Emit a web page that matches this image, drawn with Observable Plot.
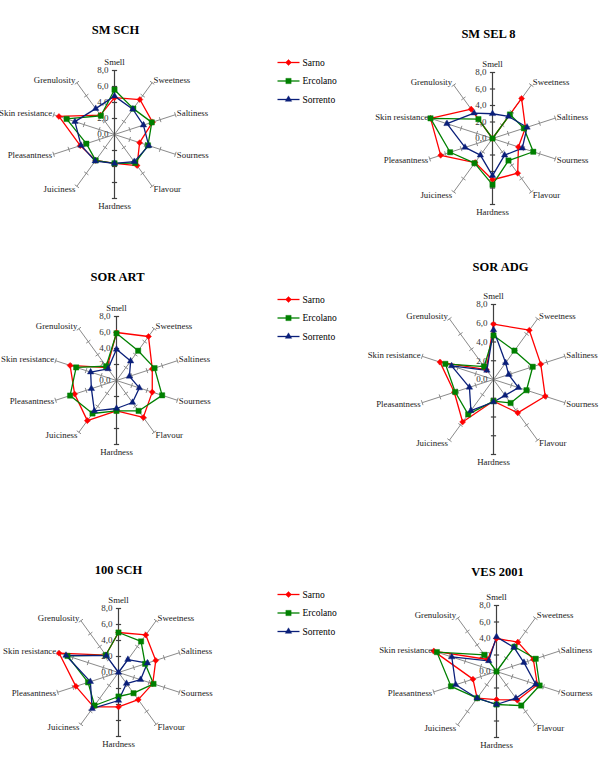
<!DOCTYPE html>
<html><head><meta charset="utf-8">
<script src="https://cdn.jsdelivr.net/npm/d3@7"></script>
<script src="https://cdn.jsdelivr.net/npm/@observablehq/plot@0.6"></script>
<style>body{margin:0;background:#fff}#chart{width:600px;height:760px}</style>
</head><body><div id="chart"></div>
<script>
// ---------- data ----------
const attributes = ["Smell","Sweetness","Saltiness","Sourness","Flavour","Hardness","Juiciness","Pleasantness","Skin resistance","Grenulosity"];
const seriesNames = ["Sarno","Ercolano","Sorrento"];
const chartTitles = ["SM SCH","SM SEL 8","SOR ART","SOR ADG","100 SCH","VES 2001"];
const scaleTicks = [0,2,4,6,8];
const scaleTickLabels = ["0,0","2,0","4,0","6,0","8,0"];

const smSchSarno     = [4.6,5.4,5.0,3.3,4.8,3.6,4.0,4.5,7.3,3.0];
const smSchErcolano  = [5.6,4.0,4.9,4.4,4.4,3.6,4.0,3.7,6.3,2.9];
const smSchSorrento  = [4.8,3.9,3.8,4.5,4.2,3.6,4.1,4.4,5.2,4.0];

const smSel8Sarno    = [0.0,6.0,4.2,3.3,5.2,5.0,3.6,6.6,7.9,4.4];
const smSel8Ercolano = [0.0,3.6,4.0,5.2,3.3,5.6,3.7,5.4,7.9,2.9];
const smSel8Sorrento = [3.0,3.3,4.4,3.8,2.5,4.5,2.5,3.5,5.8,3.8];

const sorArtSarno    = [6.0,6.8,4.7,4.7,5.7,3.8,6.2,5.5,6.1,2.0];
const sorArtErcolano = [5.9,4.6,5.0,6.0,4.7,3.8,5.1,6.1,5.3,2.2];
const sorArtSorrento = [3.9,3.0,1.7,3.0,3.4,3.5,4.7,3.3,3.4,1.8];

const sorAdgSarno    = [5.9,6.5,5.3,5.8,4.4,2.3,5.6,4.4,6.0,1.3];
const sorAdgErcolano = [4.7,3.8,4.4,3.7,3.1,2.3,4.6,4.3,5.4,1.7];
const sorAdgSorrento = [5.3,2.2,1.7,2.8,2.1,2.4,4.1,2.7,4.7,1.2];

const sch100Sarno    = [5.0,5.8,4.9,4.5,4.2,4.3,5.3,5.6,7.8,2.7];
const sch100Ercolano = [5.0,4.8,3.5,4.6,3.2,3.0,5.1,4.0,6.7,2.7];
const sch100Sorrento = [0.0,2.0,3.8,2.9,1.7,3.5,5.6,3.7,6.9,2.6];

const ves2001Sarno    = [4.0,4.4,4.7,5.2,4.3,3.4,4.0,3.0,8.0,1.8];
const ves2001Ercolano = [0.0,3.7,5.0,5.5,5.1,4.0,4.0,5.8,7.6,2.5];
const ves2001Sorrento = [4.2,3.6,3.5,5.0,4.0,4.0,4.0,5.2,5.7,1.6];

const chartValues = [
  [smSchSarno, smSchErcolano, smSchSorrento],
  [smSel8Sarno, smSel8Ercolano, smSel8Sorrento],
  [sorArtSarno, sorArtErcolano, sorArtSorrento],
  [sorAdgSarno, sorAdgErcolano, sorAdgSorrento],
  [sch100Sarno, sch100Ercolano, sch100Sorrento],
  [ves2001Sarno, ves2001Ercolano, ves2001Sorrento]
];

// ---------- layout & style ----------
const layout = [
  {cx:114, cy:134, R:64, tx:115, ty:29},
  {cx:492, cy:138, R:66, tx:488, ty:33},
  {cx:116, cy:380, R:64, tx:117, ty:276},
  {cx:493, cy:379, R:75, tx:500, ty:266},
  {cx:118, cy:672, R:64, tx:118, ty:569},
  {cx:496, cy:671, R:66, tx:497, ty:571}
];
const legendTops = [62, 299, 594];
const legendStep = 18.5;
const colors = ["#ff0000","#008000","#0a1f7a"];
const maxVal = 8;
const font = "'Liberation Serif','Times New Roman',serif";
const markerStyle = {
  Sarno:    {symbol: "square",   rotate: 45, r: 2.4},
  Ercolano: {symbol: "square",   rotate: 0,  r: 3.0},
  Sorrento: {symbol: "triangle", rotate: 0,  r: 2.4}
};

function pos(ci, v, j) {
  const L = layout[ci];
  const a = j * 2 * Math.PI / attributes.length;
  const r = v * L.R / maxVal;
  return [L.cx + r * Math.sin(a), L.cy - r * Math.cos(a)];
}

// series rows
const rows = [];
chartValues.forEach((sv, ci) => sv.forEach((vals, k) => vals.forEach((v, j) => {
  const [px, py] = pos(ci, v, j);
  rows.push({chart: chartTitles[ci], series: seriesNames[k], attr: attributes[j], value: v, px, py});
})));

// spokes, ticks, labels
const spokes = [], ticks = [], catLabels = [], valLabels = [], titles = [];
layout.forEach((L, ci) => {
  titles.push({title: chartTitles[ci], x: L.tx, y: L.ty});
  attributes.forEach((name, j) => {
    const a = j * 2 * Math.PI / attributes.length;
    const [x2, y2] = pos(ci, maxVal, j);
    spokes.push({x1: L.cx, y1: L.cy, x2, y2, main: (j === 0 || j === 5)});
    scaleTicks.filter(t => t > 0).forEach(t => {
      const [tx, ty] = pos(ci, t, j);
      const h = 2.6, ux = Math.cos(a), uy = Math.sin(a);
      ticks.push({x1: tx - h*ux, y1: ty - h*uy, x2: tx + h*ux, y2: ty + h*uy, main: (j === 0 || j === 5)});
    });
    let lx, ly, anchor;
    if (j === 0) { lx = x2; ly = y2 - 8; anchor = "middle"; }
    else if (j === 5) { lx = x2; ly = y2 + 8; anchor = "middle"; }
    else {
      const s = Math.sin(a), c = Math.cos(a);
      lx = x2 + 1.5 * Math.sign(s);
      ly = y2 - 3.5 * c;
      anchor = s > 0 ? "start" : "end";
    }
    catLabels.push({name, x: lx, y: ly, anchor});
  });
  scaleTicks.forEach((t, i) => {
    const [, ty] = pos(ci, t, 0);
    valLabels.push({label: scaleTickLabels[i], x: L.cx - 6, y: ty});
  });
});

// legend rows
const legendRows = [];
legendTops.forEach(y0 => seriesNames.forEach((s, k) => {
  legendRows.push({series: s, x1: 277, x2: 299, xm: 288, xt: 302, y: y0 + k * legendStep});
}));

const dotMarks = (data, x, y) => seriesNames.map(s => Plot.dot(data.filter(d => d.series === s), {
  x, y, fill: "series", stroke: "series", strokeWidth: 0.4,
  symbol: markerStyle[s].symbol, rotate: markerStyle[s].rotate, r: markerStyle[s].r
}));

const plot = Plot.plot({
  width: 600, height: 760,
  margin: 0,
  x: {domain: [0, 600], range: [0, 600], axis: null},
  y: {domain: [0, 760], range: [0, 760], axis: null},
  color: {domain: seriesNames, range: colors},
  style: {fontFamily: font, background: "#fff"},
  marks: [
    Plot.link(spokes.filter(d => !d.main), {x1: "x1", y1: "y1", x2: "x2", y2: "y2", stroke: "#8a8a8a", strokeWidth: 1}),
    Plot.link(ticks.filter(d => !d.main), {x1: "x1", y1: "y1", x2: "x2", y2: "y2", stroke: "#8a8a8a", strokeWidth: 1}),
    Plot.link(spokes.filter(d => d.main), {x1: "x1", y1: "y1", x2: "x2", y2: "y2", stroke: "#404040", strokeWidth: 1.2}),
    Plot.link(ticks.filter(d => d.main), {x1: "x1", y1: "y1", x2: "x2", y2: "y2", stroke: "#404040", strokeWidth: 1.2}),
    Plot.text(valLabels, {x: "x", y: "y", text: "label", textAnchor: "end", fontSize: 9, fill: "#333"}),
    Plot.line(rows, {x: "px", y: "py", z: d => d.chart + "|" + d.series, stroke: "series", curve: "linear-closed", strokeWidth: 1.3}),
    ...dotMarks(rows, "px", "py"),
    Plot.text(catLabels.filter(d => d.anchor === "start"), {x: "x", y: "y", text: "name", textAnchor: "start", fontSize: 8.8, fill: "#222"}),
    Plot.text(catLabels.filter(d => d.anchor === "end"), {x: "x", y: "y", text: "name", textAnchor: "end", fontSize: 8.8, fill: "#222"}),
    Plot.text(catLabels.filter(d => d.anchor === "middle"), {x: "x", y: "y", text: "name", textAnchor: "middle", fontSize: 8.8, fill: "#222"}),
    Plot.text(titles, {x: "x", y: "y", text: "title", fontSize: 12.5, fontWeight: "bold", fill: "#000"}),
    Plot.link(legendRows, {x1: "x1", x2: "x2", y1: "y", y2: "y", stroke: "series", strokeWidth: 1.3}),
    ...dotMarks(legendRows, "xm", "y"),
    Plot.text(legendRows, {x: "xt", y: "y", text: "series", textAnchor: "start", fontSize: 9.5, fill: "#000"})
  ]
});
document.getElementById("chart").appendChild(plot);
</script>
</body></html>
